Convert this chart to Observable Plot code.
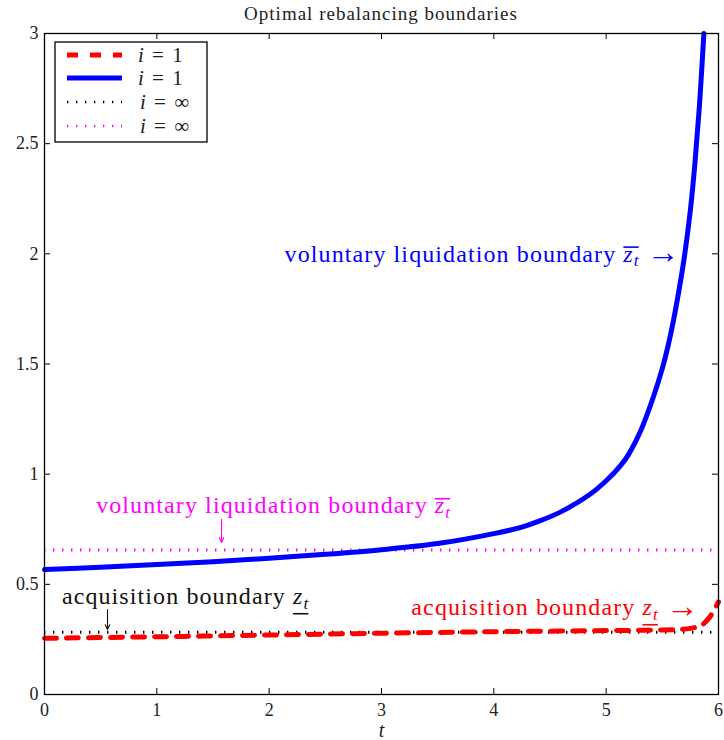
<!DOCTYPE html>
<html><head><meta charset="utf-8">
<script src="https://cdn.jsdelivr.net/npm/d3@7"></script>
<script src="https://cdn.jsdelivr.net/npm/@observablehq/plot@0.6"></script>
<style>
body{margin:0;background:#fff;}
#title{width:674px;height:24px;padding-left:44px;text-align:center;font-family:'Liberation Serif',serif;font-size:19px;letter-spacing:1px;line-height:27px;color:#222;}
#chart{position:relative;}
</style></head><body>
<div id="title">Optimal rebalancing boundaries</div>
<div id="chart"></div>
<script>
// ---- data ----
const blueT = [0, 0.5, 1, 1.5, 2, 2.5, 3, 3.5, 4, 4.25, 4.42, 4.6, 4.86, 5, 5.13, 5.2, 5.31, 5.42, 5.5, 5.55, 5.6, 5.66, 5.7, 5.75, 5.79, 5.83, 5.87];
const blueZ = [0.567, 0.578, 0.59, 0.603, 0.618, 0.636, 0.657, 0.685, 0.73, 0.76, 0.79, 0.83, 0.91, 0.97, 1.04, 1.09, 1.2, 1.35, 1.48, 1.58, 1.7, 1.87, 2.0, 2.2, 2.41, 2.67, 3.0];
const redT = [0, 1, 2, 3, 4, 5, 5.5, 5.75, 5.85, 5.92, 6];
const redZ = [0.255, 0.262, 0.27, 0.278, 0.285, 0.29, 0.293, 0.3, 0.315, 0.35, 0.42];
const infLower = [0.283];   // i = ∞ acquisition boundary
const infUpper = [0.656];   // i = ∞ voluntary liquidation boundary
const xTicks = [0, 1, 2, 3, 4, 5, 6];
const yTicks = [0, 0.5, 1, 1.5, 2, 2.5, 3];
const yTickLabels = ["0", "0.5", "1", "1.5", "2", "2.5", "3"];
const legendLabels = ["1", "1", "∞", "∞"];
const annTexts = [
  {t: 5.66, z: 2.0, label: "voluntary liquidation boundary {O} →", color: "#0000ff", anchor: "end"},
  {t: 2.04, z: 0.858, label: "voluntary liquidation boundary {O}", color: "#ff00ff", anchor: "middle"},
  {t: 1.256, z: 0.445, label: "acquisition boundary {U}", color: "#111111", anchor: "middle"},
  {t: 5.83, z: 0.395, label: "acquisition boundary {U} →", color: "#ff0000", anchor: "end"}
];
const annArrows = [
  {t: 1.576, z1: 0.795, z2: 0.69, color: "#ff00ff"},
  {t: 0.561, z1: 0.385, z2: 0.295, color: "#111111"}
];

const blue = blueT.map((t, i) => ({t, z: blueZ[i]}));
const red = redT.map((t, i) => ({t, z: redZ[i]}));

const W = 724, H = 716, mL = 44, mR = 6, mT = 9, mB = 46;
const pw = W - mL - mR, ph = H - mT - mB;
const FONT = "'Liberation Serif', serif";
const ANN = 24;

const chart = Plot.plot({
  width: W, height: H,
  marginLeft: mL, marginRight: mR, marginTop: mT, marginBottom: mB,
  style: {fontFamily: FONT, fontSize: "18px", color: "#222", background: "#fff", overflow: "visible"},
  x: {domain: [0, 6]},
  y: {domain: [0, 3]},
  marks: [
    Plot.ruleY(infUpper, {y: d => d, stroke: "#ff00ff", strokeWidth: 3, strokeDasharray: "1.4,7.6"}),
    Plot.ruleY(infLower, {y: d => d, stroke: "#000", strokeWidth: 3, strokeDasharray: "1.4,7.6"}),
    Plot.line(blue, {x: "t", y: "z", stroke: "#0000ff", strokeWidth: 5, curve: "catmull-rom"}),
    Plot.line(red, {x: "t", y: "z", stroke: "#ff0000", strokeWidth: 5, strokeDasharray: "12,10", curve: "catmull-rom"}),
    Plot.frame({stroke: "#000", strokeWidth: 1.3}),
    Plot.ruleX(xTicks, {x: d => d, insetTop: ph - 6, stroke: "#000"}),
    Plot.ruleX(xTicks, {x: d => d, insetBottom: ph - 6, stroke: "#000"}),
    Plot.ruleY(yTicks, {y: d => d, insetRight: pw - 6, stroke: "#000"}),
    Plot.ruleY(yTicks, {y: d => d, insetLeft: pw - 6, stroke: "#000"}),
    Plot.axisX(xTicks, {tickSize: 0, tickPadding: 9, label: null, fontSize: 18, fill: "#222"}),
    Plot.axisY(yTicks, {tickSize: 0, tickPadding: 6, label: null, fontSize: 18, fill: "#222",
      tickFormat: d => yTickLabels[yTicks.indexOf(d)]}),
    Plot.text(["t"], {frameAnchor: "bottom", dy: 42, text: d => d, fontStyle: "italic", fontSize: 20, fill: "#222"}),
    Plot.text(annTexts.filter(d => d.anchor === "end"), {x: "t", y: "z", text: "label", fill: "color", textAnchor: "end", fontSize: ANN}),
    Plot.text(annTexts.filter(d => d.anchor === "middle"), {x: "t", y: "z", text: "label", fill: "color", textAnchor: "middle", fontSize: ANN}),
    Plot.arrow(annArrows, {x1: "t", x2: "t", y1: "z1", y2: "z2", stroke: "color", strokeWidth: 1.1, headLength: 7, headAngle: 50})
  ]
});

document.getElementById("chart").appendChild(chart);
const svg = d3.select(chart);

// enrich annotation texts with z_t, overline / underline
svg.selectAll("text").each(function () {
  const el = this;
  const s = el.textContent;
  const m = s.match(/\{([OU])\}/);
  if (!m) return;
  const kind = m[1];
  const [before, after] = s.split(m[0]);
  const fill = el.getAttribute("fill") || getComputedStyle(el).fill;
  el.textContent = "";
  el.setAttribute("letter-spacing", "1.1");
  const sel = d3.select(el);
  sel.append("tspan").text(before);
  sel.append("tspan").attr("font-style", "italic").text("z");
  sel.append("tspan").attr("font-style", "italic").attr("font-size", "0.72em").attr("dy", "0.28em").text("t");
  sel.append("tspan").attr("dy", "-0.2em").text(after ? " " : "");
  if (after) sel.append("tspan").attr("font-size", "1.35em").attr("dy", "0.05em").text(after.trim());
  const iz = before.length;
  const p0 = el.getStartPositionOfChar(iz);
  const p1 = el.getEndPositionOfChar(iz + 1);
  const ly = kind === "O" ? p0.y - 0.6 * ANN : p0.y + 0.4 * ANN;
  d3.select(el.parentNode).append("line")
    .attr("transform", el.getAttribute("transform"))
    .attr("x1", p0.x).attr("x2", p1.x - 1).attr("y1", ly).attr("y2", ly)
    .attr("stroke", fill).attr("stroke-width", 1.6);
});

// legend (inside plot, top-left)
const lg = svg.append("g").attr("transform", "translate(55,18)");
lg.append("rect").attr("width", 152).attr("height", 100).attr("fill", "#fff").attr("stroke", "#000").attr("stroke-width", 1.3);
const legendStyles = [
  {stroke: "#ff0000", w: 5, dash: "11,12"},
  {stroke: "#0000ff", w: 5, dash: null},
  {stroke: "#000", w: 2.5, dash: "1.3,7.7"},
  {stroke: "#ff00ff", w: 2.5, dash: "1.3,7.7"}
];
const legendY = [13, 36, 60, 84];
legendStyles.forEach((st, i) => {
  lg.append("line").attr("x1", 12).attr("x2", 67).attr("y1", legendY[i]).attr("y2", legendY[i])
    .attr("stroke", st.stroke).attr("stroke-width", st.w).attr("stroke-dasharray", st.dash);
  const tx = lg.append("text").attr("x", i < 2 ? 83 : 85).attr("y", legendY[i]).attr("dy", "0.35em")
    .attr("text-anchor", "start")
    .attr("font-family", FONT).attr("font-size", 21).attr("letter-spacing", 1.5).attr("fill", "#222");
  tx.append("tspan").attr("font-style", "italic").text("i");
  tx.append("tspan").text(" = " + legendLabels[i]);
});
</script>
</body></html>
